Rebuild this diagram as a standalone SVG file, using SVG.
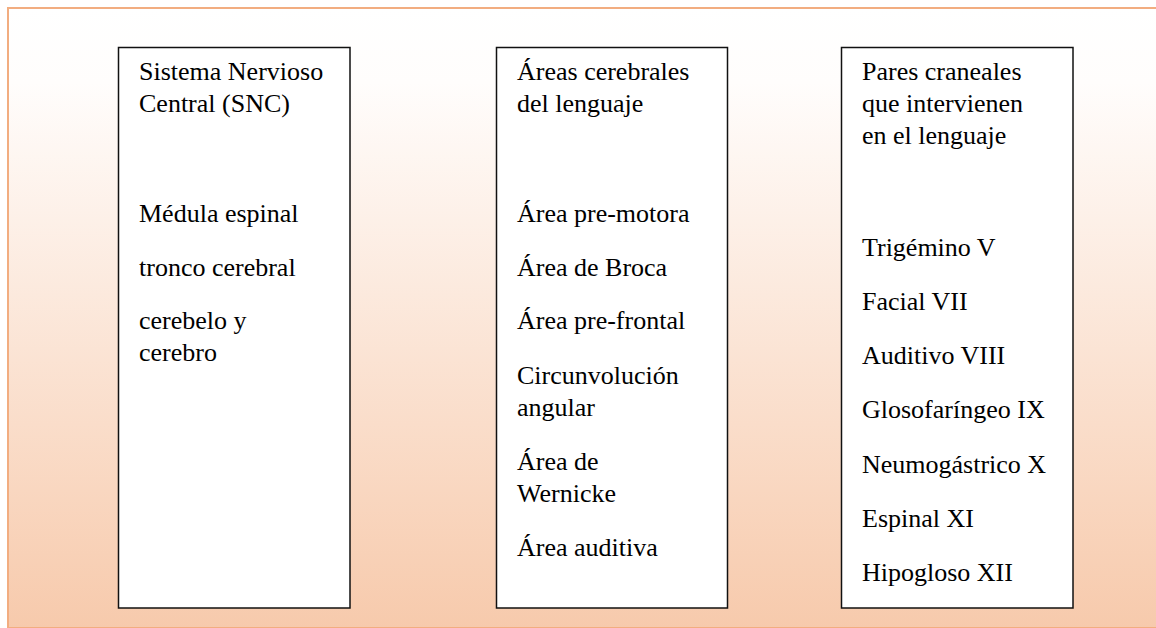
<svg xmlns="http://www.w3.org/2000/svg" width="1156" height="628" viewBox="0 0 1156 628">
  <defs>
    <linearGradient id="bg" x1="0" y1="0" x2="0" y2="1">
      <stop offset="0" stop-color="#FFFFFF"/>
      <stop offset="0.12" stop-color="#FFFDFC"/>
      <stop offset="1" stop-color="#F7CAAC"/>
    </linearGradient>
  </defs>
  <style>
    .box { fill: #FFFFFF; stroke: #111111; stroke-width: 1.5; }
    .t { font-family: 'Liberation Serif', 'DejaVu Serif', serif; font-size: 26px; fill: #000000; }
  </style>
  <rect x="0" y="0" width="1156" height="628" fill="#FFFFFF"/>
  <rect id="frame" x="8" y="8" width="1160" height="620" fill="url(#bg)" stroke="#F2AD80" stroke-width="2"/>

  <g id="connectors"></g>

  <g id="node-snc">
    <rect class="box" x="118.5" y="47.5" width="231.5" height="560.5"/>
    <text class="t" font-family="Liberation Serif, serif" x="139" y="80">Sistema Nervioso</text>
    <text class="t" x="139" y="112">Central (SNC)</text>
    <text class="t" x="139" y="222">Médula espinal</text>
    <text class="t" x="139" y="276">tronco cerebral</text>
    <text class="t" x="139" y="329">cerebelo y</text>
    <text class="t" x="139" y="361">cerebro</text>
  </g>

  <g id="node-areas">
    <rect class="box" x="496.5" y="47.5" width="231" height="560.5"/>
    <text class="t" x="517" y="80">Áreas cerebrales</text>
    <text class="t" x="517" y="112">del lenguaje</text>
    <text class="t" x="517" y="222">Área pre-motora</text>
    <text class="t" x="517" y="276">Área de Broca</text>
    <text class="t" x="517" y="329">Área pre-frontal</text>
    <text class="t" x="517" y="384">Circunvolución</text>
    <text class="t" x="517" y="416">angular</text>
    <text class="t" x="517" y="470">Área de</text>
    <text class="t" x="517" y="502">Wernicke</text>
    <text class="t" x="517" y="556">Área auditiva</text>
  </g>

  <g id="node-pares">
    <rect class="box" x="841.5" y="47.5" width="231.5" height="560.5"/>
    <text class="t" x="862" y="80">Pares craneales</text>
    <text class="t" x="862" y="112">que intervienen</text>
    <text class="t" x="862" y="144">en el lenguaje</text>
    <text class="t" x="862" y="256">Trigémino V</text>
    <text class="t" x="862" y="310">Facial VII</text>
    <text class="t" x="862" y="364">Auditivo VIII</text>
    <text class="t" x="862" y="418">Glosofaríngeo IX</text>
    <text class="t" x="862" y="473">Neumogástrico X</text>
    <text class="t" x="862" y="527">Espinal XI</text>
    <text class="t" x="862" y="581">Hipogloso XII</text>
  </g>
</svg>
